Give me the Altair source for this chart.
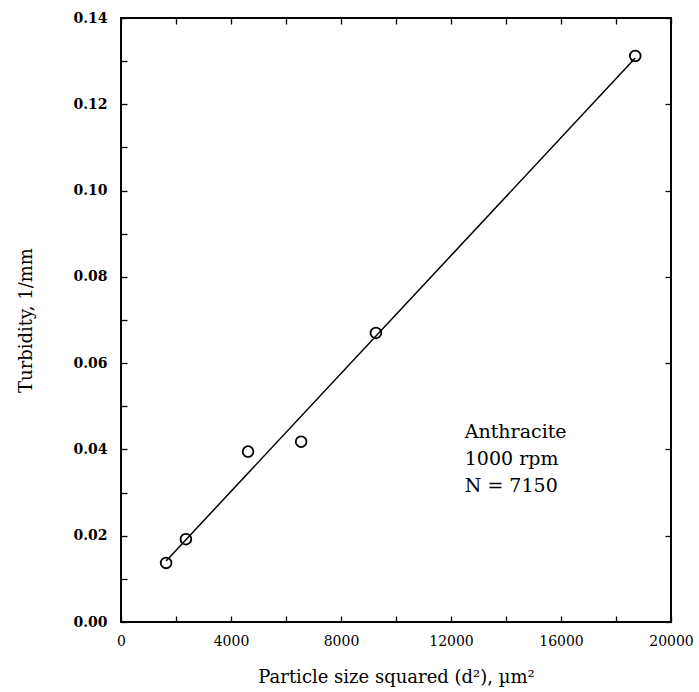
import altair as alt
import pandas as pd

# Data
particle_size_sq = [1640, 2360, 4620, 6550, 9270, 18700]
turbidity = [0.0137, 0.0192, 0.0395, 0.0418, 0.0670, 0.1312]

x_ticks_all = list(range(0, 20001, 2000))
y_ticks_all = [round(i * 0.01, 2) for i in range(0, 15)]
y_ticks_major = [round(i * 0.02, 2) for i in range(0, 8)]

note_lines = "Anthracite\n1000 rpm\nN = 7150"
note_x = [12500]
note_y = [0.0426]

df = pd.DataFrame({"x": particle_size_sq, "y": turbidity})
note_df = pd.DataFrame({"x": note_x, "y": note_y, "t": [note_lines]})

FONT = "DejaVu Serif"
xscale = alt.Scale(domain=[0, 20000], nice=False)
yscale = alt.Scale(domain=[0, 0.14], nice=False)

tick_common = dict(grid=True, gridDash=[6, 3000], gridColor="black", gridWidth=1.3,
                   gridOpacity=1, ticks=False, domain=False)

x_bottom = alt.Axis(
    orient="bottom", values=x_ticks_all,
    labelExpr="datum.value % 4000 == 0 ? format(datum.value, 'd') : ''",
    labelFont=FONT, labelFontSize=14, labelColor="black", labelPadding=12,
    labelFlush=False,
    title="Particle size squared (d²), µm²", titleFont=FONT, titleFontSize=18,
    titleFontWeight="normal", titleColor="black", titlePadding=20,
    **tick_common)
y_left = alt.Axis(
    orient="left", values=y_ticks_all,
    labelExpr="round(datum.value*100) % 2 == 0 ? format(datum.value, '.2f') : ''",
    labelFont=FONT, labelFontSize=14, labelFontWeight="bold", labelColor="black",
    labelPadding=14, labelFlush=False,
    title="Turbidity, 1/mm", titleFont=FONT, titleFontSize=18,
    titleFontWeight="normal", titleColor="black", titlePadding=37,
    **tick_common)
x_top = alt.Axis(orient="top", values=x_ticks_all, labels=False, title=None, **tick_common)
y_right = alt.Axis(orient="right", values=y_ticks_major, labels=False, title=None, **tick_common)

points = alt.Chart(df).mark_point(
    shape="circle", filled=False, size=115, strokeWidth=1.8, color="black", opacity=1
).encode(
    x=alt.X("x:Q", scale=xscale, axis=x_bottom),
    y=alt.Y("y:Q", scale=yscale, axis=y_left),
)

fit = alt.Chart(df).transform_regression("x", "y").mark_line(
    color="black", strokeWidth=1.5
).encode(
    x=alt.X("x:Q", scale=xscale, axis=x_top),
    y=alt.Y("y:Q", scale=yscale, axis=y_right),
)

note = alt.Chart(note_df).mark_text(
    align="left", baseline="alphabetic", font=FONT, fontSize=19, lineBreak="\n",
    lineHeight=27, color="black"
).encode(
    x=alt.X("x:Q", scale=xscale, axis=None),
    y=alt.Y("y:Q", scale=yscale, axis=None),
    text="t:N",
)

chart = alt.layer(points, fit, note).resolve_axis(x="independent", y="independent").properties(
    width=550, height=604,
    padding={"left": 121, "top": 18, "right": 28, "bottom": 70},
    autosize="none",
    background="white",
).configure_view(stroke="black", strokeWidth=2)

chart.save("out.html", embed_options={"renderer": "svg", "actions": False})
